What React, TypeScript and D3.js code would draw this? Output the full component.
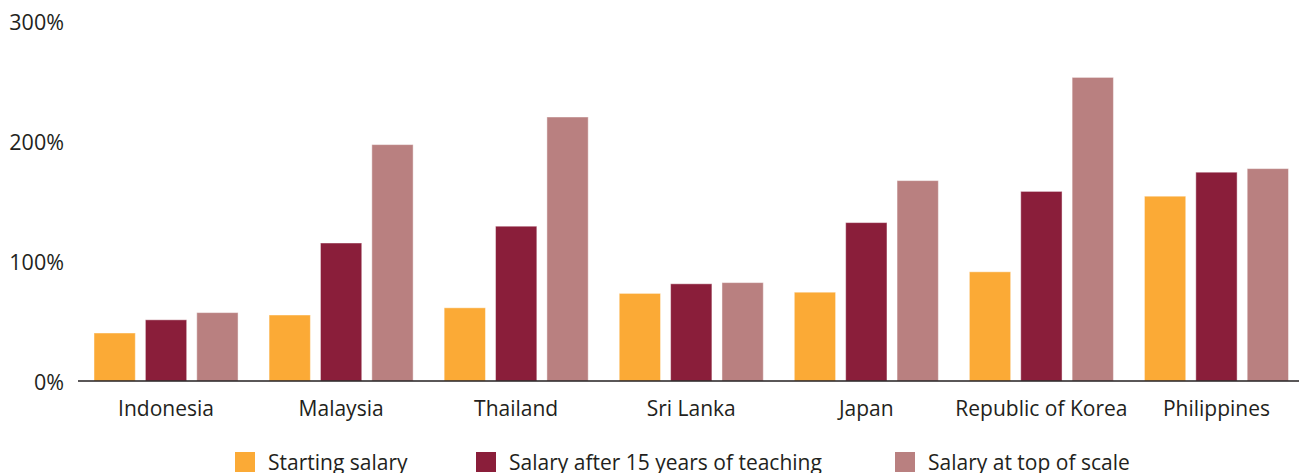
import React from 'react';
import * as d3 from 'd3';

const countries = ['Indonesia', 'Malaysia', 'Thailand', 'Sri Lanka', 'Japan', 'Republic of Korea', 'Philippines'];
const series = ['Starting salary', 'Salary after 15 years of teaching', 'Salary at top of scale'];
const starting = [40, 55, 61, 73, 74, 91, 154];
const after15 = [51, 115, 129, 81, 132, 158, 174];
const topScale = [57, 197, 220, 82, 167, 253, 177];
const yTicks = [0, 100, 200, 300];
const colors = ['#FBAA36', '#8A1E3A', '#B98080'];

const W = 1299;
const H = 473;
const font = '"Open Sans", "Noto Sans", sans-serif';

export default function App() {
  const values = [starting, after15, topScale];

  const x0 = d3.scaleBand<string>()
    .domain(countries)
    .range([78.5, 1304])
    .paddingInner(31 / 175)
    .paddingOuter(31 / 350);

  const x1 = d3.scaleBand<number>()
    .domain(d3.range(series.length))
    .range([0, x0.bandwidth()])
    .paddingInner(10 / 51)
    .paddingOuter(0);

  const y = d3.scaleLinear().domain([0, 300]).range([381, 21]);

  // legend positions (square left edges)
  const legendX = [235, 476, 895];

  return (
    <svg width={W} height={H} style={{position: 'absolute', left: 0, top: 0}} fontFamily={font}>
      <rect width={W} height={H} fill="#fff" />

      {yTicks.map(t => (
        <text key={t} x={64} y={y(t)} textAnchor="end" dominantBaseline="central" fontSize={21.5} fill="#231F20">
          {t}%
        </text>
      ))}

      {countries.map((c, i) => (
        <g key={c} transform={'translate(' + x0(c) + ',0)'}>
          {values.map((vals, s) => (
            <rect
              key={s}
              x={x1(s)}
              y={y(vals[i])}
              width={x1.bandwidth()}
              height={y(0) - y(vals[i])}
              fill={colors[s]}
              stroke="#fff"
              strokeOpacity={0.45}
              strokeWidth={1}
            />
          ))}
          <text x={x0.bandwidth() / 2} y={408} textAnchor="middle" dominantBaseline="central" fontSize={21} fill="#231F20">
            {c}
          </text>
        </g>
      ))}

      <line x1={78} x2={W} y1={y(0)} y2={y(0)} stroke="#231F20" strokeWidth={1.5} />

      {series.map((s, i) => (
        <g key={s} transform={'translate(' + legendX[i] + ',452)'}>
          <rect width={20} height={20} fill={colors[i]} />
          <text x={33} y={10} dominantBaseline="central" fontSize={21} fill="#231F20">{s}</text>
        </g>
      ))}
    </svg>
  );
}
